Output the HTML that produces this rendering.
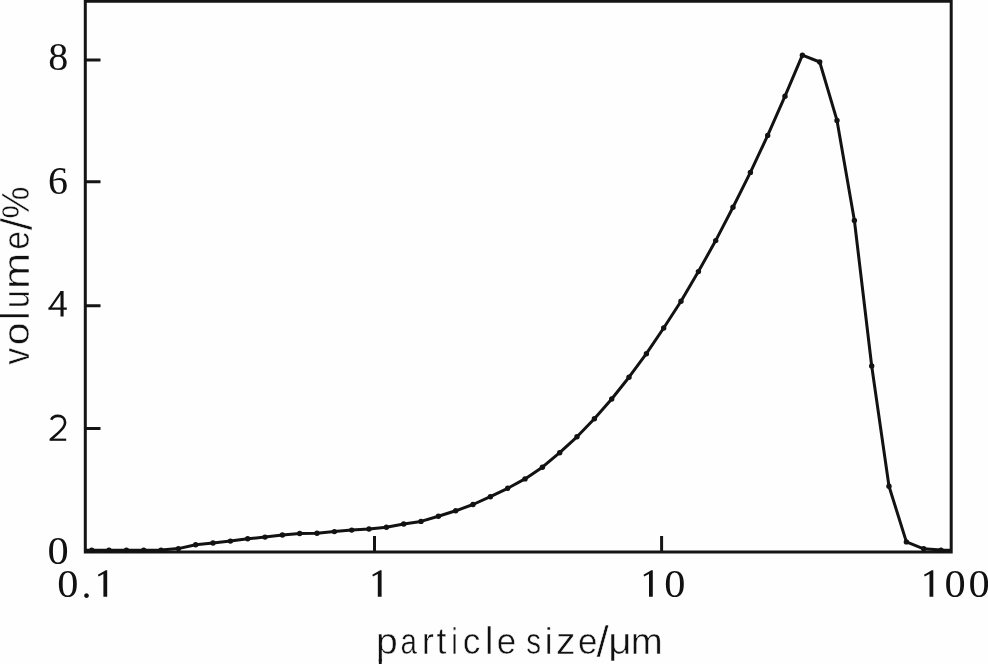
<!DOCTYPE html>
<html><head><meta charset="utf-8"><style>
html,body{margin:0;padding:0;background:#fff;}
body{width:988px;height:664px;overflow:hidden;position:relative;}
svg{position:absolute;left:0;top:0;will-change:transform;}
text{fill:#111;}
.a{font-family:"Liberation Sans",sans-serif;font-size:37px;stroke:#fefefe;stroke-width:0.5px;}
</style></head><body>
<svg width="988" height="664" viewBox="0 0 988 664">
<rect x="0" y="0" width="988" height="664" fill="#fefefe"/>
<g>
<g stroke="#151515" stroke-width="3" fill="none" stroke-linecap="butt">
<path d="M85.3,0 V553.5 M83.8,552 H952.7 M951.2,0 V553.5 M83.8,1.3 H952.7"/>
<path d="M85.3,60.1 H100.5 M85.3,181.7 H100.5 M85.3,305.8 H100.5 M85.3,428.5 H100.5"/>
<path d="M374.5,552 V536 M661.6,552 V536"/>
</g>
<polyline points="86.0,550.2 91.7,550.2 109.0,550.2 126.4,550.2 143.7,550.2 161.0,550.1 178.4,548.6 195.7,544.7 213.0,543.0 230.4,541.1 247.7,538.8 265.0,537.1 282.4,535.0 299.7,533.5 317.0,533.2 334.4,531.6 351.7,530.1 369.0,529.0 386.4,527.2 403.7,524.0 421.0,521.4 438.4,516.3 455.7,510.8 473.0,504.5 490.4,496.7 507.7,488.3 525.0,478.9 542.4,467.2 559.7,452.7 577.0,436.8 594.4,418.8 611.7,399.0 629.0,377.2 646.4,353.7 663.7,328.0 681.0,301.2 698.4,271.6 715.7,240.6 733.0,207.3 750.4,172.4 767.7,135.4 785.0,96.2 802.4,55.2 819.7,62.0 837.0,120.4 854.4,220.5 871.7,366.0 889.0,486.3 906.4,541.9 923.7,548.8 941.0,550.1 950.0,550.2" fill="none" stroke="#121212" stroke-width="3.0" stroke-linejoin="round"/>
<g fill="#121212">
<circle cx="91.7" cy="550.2" r="2.7"/>
<circle cx="109.0" cy="550.2" r="2.7"/>
<circle cx="126.4" cy="550.2" r="2.7"/>
<circle cx="143.7" cy="550.2" r="2.7"/>
<circle cx="161.0" cy="550.1" r="2.7"/>
<circle cx="178.4" cy="548.6" r="2.7"/>
<circle cx="195.7" cy="544.7" r="2.7"/>
<circle cx="213.0" cy="543.0" r="2.7"/>
<circle cx="230.4" cy="541.1" r="2.7"/>
<circle cx="247.7" cy="538.8" r="2.7"/>
<circle cx="265.0" cy="537.1" r="2.7"/>
<circle cx="282.4" cy="535.0" r="2.7"/>
<circle cx="299.7" cy="533.5" r="2.7"/>
<circle cx="317.0" cy="533.2" r="2.7"/>
<circle cx="334.4" cy="531.6" r="2.7"/>
<circle cx="351.7" cy="530.1" r="2.7"/>
<circle cx="369.0" cy="529.0" r="2.7"/>
<circle cx="386.4" cy="527.2" r="2.7"/>
<circle cx="403.7" cy="524.0" r="2.7"/>
<circle cx="421.0" cy="521.4" r="2.7"/>
<circle cx="438.4" cy="516.3" r="2.7"/>
<circle cx="455.7" cy="510.8" r="2.7"/>
<circle cx="473.0" cy="504.5" r="2.7"/>
<circle cx="490.4" cy="496.7" r="2.7"/>
<circle cx="507.7" cy="488.3" r="2.7"/>
<circle cx="525.0" cy="478.9" r="2.7"/>
<circle cx="542.4" cy="467.2" r="2.7"/>
<circle cx="559.7" cy="452.7" r="2.7"/>
<circle cx="577.0" cy="436.8" r="2.7"/>
<circle cx="594.4" cy="418.8" r="2.7"/>
<circle cx="611.7" cy="399.0" r="2.7"/>
<circle cx="629.0" cy="377.2" r="2.7"/>
<circle cx="646.4" cy="353.7" r="2.7"/>
<circle cx="663.7" cy="328.0" r="2.7"/>
<circle cx="681.0" cy="301.2" r="2.7"/>
<circle cx="698.4" cy="271.6" r="2.7"/>
<circle cx="715.7" cy="240.6" r="2.7"/>
<circle cx="733.0" cy="207.3" r="2.7"/>
<circle cx="750.4" cy="172.4" r="2.7"/>
<circle cx="767.7" cy="135.4" r="2.7"/>
<circle cx="785.0" cy="96.2" r="2.7"/>
<circle cx="802.4" cy="55.2" r="2.7"/>
<circle cx="819.7" cy="62.0" r="2.7"/>
<circle cx="837.0" cy="120.4" r="2.7"/>
<circle cx="854.4" cy="220.5" r="2.7"/>
<circle cx="871.7" cy="366.0" r="2.7"/>
<circle cx="889.0" cy="486.3" r="2.7"/>
<circle cx="906.4" cy="541.9" r="2.7"/>
<circle cx="923.7" cy="548.8" r="2.7"/>
<circle cx="941.0" cy="550.1" r="2.7"/>
</g>
<text transform="translate(48.35,70.11)" font-family="Liberation Serif" font-size="40">8</text>
<text transform="translate(47.94,194.01)" font-family="Liberation Serif" font-size="40">6</text>
<text transform="translate(47.55,564.11) scale(1.06,1)" font-family="Liberation Serif" font-size="40">0</text>
<text transform="translate(57.35,596.51) scale(1.06,1)" font-family="Liberation Serif" font-size="40">0</text>
<text transform="translate(81.50,597.93)" font-family="Liberation Serif" font-size="40">.</text>
<text transform="translate(664.25,596.51) scale(1.06,1)" font-family="Liberation Serif" font-size="40">0</text>
<text transform="translate(944.40,596.51) scale(1.06,1)" font-family="Liberation Serif" font-size="40">0</text>
<text transform="translate(968.40,596.51) scale(1.06,1)" font-family="Liberation Serif" font-size="40">0</text>
<path fill="#111" d="M97.9,574.7 L105.7,570.2 L107.2,570.2 L107.2,596.7 L103.4,596.7 L103.4,573.9 L98.6,576.5 Z M372.3,574.7 L380.1,570.2 L381.6,570.2 L381.6,596.7 L377.8,596.7 L377.8,573.9 L373.0,576.5 Z M643.5,574.7 L651.3,570.2 L652.8,570.2 L652.8,596.7 L649.0,596.7 L649.0,573.9 L644.2,576.5 Z M924.0,574.7 L931.8,570.2 L933.3,570.2 L933.3,596.7 L929.5,596.7 L929.5,573.9 L924.7,576.5 Z"/>
<path fill="#111" d="M60.5,291 H63.6 V316.6 H60.5 Z M48.4,307.6 H66.8 V309.8 H48.4 Z"/>
<path stroke="#111" stroke-width="2.2" fill="none" d="M49.6,308.8 L61.6,291.6"/>
<path stroke="#111" stroke-width="2.6" fill="none" d="M51.2,419.8 C52.4,417.2 55,415.9 57.8,415.9 C62.4,415.9 65.1,418.7 65.1,422.6 C65.1,426.6 62,429.6 58.6,432.6 L50.8,439.4"/>
<path fill="#111" d="M49.6,438.6 H66.2 V440.8 H49.6 Z"/>
<text class="a" transform="translate(375.88,653.70) scale(1.058,1.000)">p</text>
<text class="a" transform="translate(400.39,653.70) scale(0.800,1.000)">a</text>
<text class="a" transform="translate(421.68,653.70) scale(0.984,1.000)">r</text>
<text class="a" transform="translate(436.56,653.70) scale(0.963,1.000)">t</text>
<text class="a" transform="translate(451.22,653.70) scale(0.800,1.000)">i</text>
<text class="a" transform="translate(462.80,653.70) scale(0.953,1.000)">c</text>
<text class="a" transform="translate(484.72,653.70) scale(1.076,1.059)">l</text>
<text class="a" transform="translate(496.82,653.70) scale(0.945,1.000)">e</text>
<text class="a" transform="translate(526.27,653.70) scale(0.800,1.000)">s</text>
<text class="a" transform="translate(544.64,653.70) scale(0.953,1.000)">i</text>
<text class="a" transform="translate(555.92,653.70) scale(1.056,1.000)">z</text>
<text class="a" transform="translate(577.92,653.70) scale(0.945,1.000)">e</text>
<text class="a" transform="translate(596.40,657.27) scale(1.197,1.192)">/</text>
<text class="a" transform="translate(608.16,653.70) scale(1.098,1.000)">μ</text>
<text class="a" transform="translate(630.65,653.70) scale(1.038,1.000)">m</text>
<rect x="378.85" y="659" width="2.85" height="5" fill="#111"/>
<g transform="translate(29,364.6) rotate(-90)">
<text class="a" transform="translate(0.19,0.00) scale(0.899,1.000)">v</text>
<text class="a" transform="translate(19.29,0.00) scale(1.099,1.000)">o</text>
<text class="a" transform="translate(44.95,0.00) scale(0.984,1.074)">l</text>
<text class="a" transform="translate(56.64,0.00) scale(0.859,1.000)">u</text>
<text class="a" transform="translate(75.62,0.00) scale(1.173,1.000)">m</text>
<text class="a" transform="translate(114.96,0.00) scale(0.916,1.000)">e</text>
<text class="a" transform="translate(134.28,2.87) scale(1.200,1.189)">/</text>
<text class="a" transform="translate(145.91,-0.03) scale(0.981,1.051)">%</text>
</g>
</g>
</svg>
</body></html>
